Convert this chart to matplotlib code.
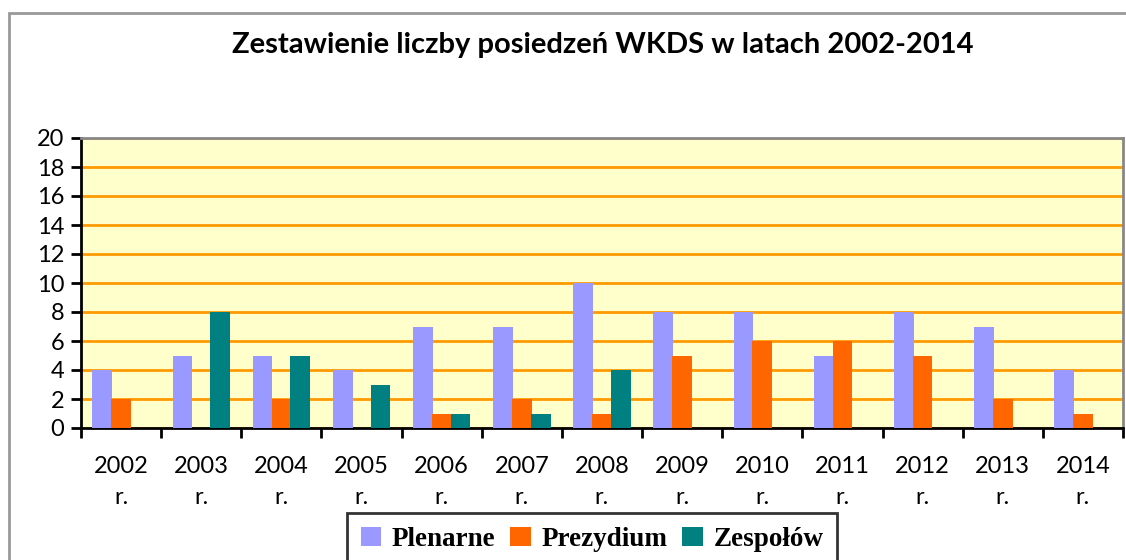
import numpy as np
import matplotlib.pyplot as plt
from matplotlib.patches import Rectangle

years = ['2002', '2003', '2004', '2005', '2006', '2007', '2008',
         '2009', '2010', '2011', '2012', '2013', '2014']
plenarne = [4, 5, 5, 4, 7, 7, 10, 8, 8, 5, 8, 7, 4]
prezydium = [2, 0, 2, 0, 1, 2, 1, 5, 6, 6, 5, 2, 1]
zespolow = [0, 8, 5, 3, 1, 1, 4, 0, 0, 0, 0, 0, 0]
series_names = ['Plenarne', 'Prezydium', 'Zespołów']
colors = ['#9999FF', '#FF6600', '#008080']

plt.rcParams['font.family'] = ['Lato', 'DejaVu Sans']

fig = plt.figure(figsize=(11.26, 5.6), dpi=100)
ax = fig.add_axes([81 / 1126, 1 - 428 / 560, 1042 / 1126, 290 / 560])
ax.set_facecolor('#FFFFCC')

x = np.arange(len(years)) + 0.5
w = 0.245
offs = [-0.235, 0.0, 0.235]
for vals, off, col, name in zip([plenarne, prezydium, zespolow], offs, colors, series_names):
    ax.bar(x + off, vals, width=w, color=col, label=name, zorder=3)

ax.set_xlim(0, len(years))
ax.set_ylim(0, 20)
ax.set_yticks(range(0, 21, 2))
ax.yaxis.grid(True, color='#FF9900', lw=2, zorder=1)
ax.set_axisbelow(True)

ax.set_xticks(np.arange(len(years) + 1))
ax.set_xticklabels([])
ax.set_xticks(x, minor=True)
ax.set_xticklabels([y + '\nr.' for y in years], minor=True, linespacing=1.6)
ax.tick_params(axis='x', which='minor', length=0, pad=20, labelsize=17)
ax.tick_params(axis='x', which='major', length=7, width=2, direction='out')
ax.tick_params(axis='y', length=7, width=2, labelsize=17, pad=5)

for s in ['left', 'bottom']:
    ax.spines[s].set_color('black')
    ax.spines[s].set_linewidth(2)
for s in ['top', 'right']:
    ax.spines[s].set_color('#888888')
    ax.spines[s].set_linewidth(2)

fig.text(603 / 1126, 1 - 45 / 560, 'Zestawienie liczby posiedzeń WKDS w latach 2002-2014',
         ha='center', va='center', fontsize=21, fontweight='bold')

leg = fig.legend(loc='upper left', bbox_to_anchor=(347 / 1126, 1 - 513 / 560), ncol=3,
                 prop={'family': 'Liberation Serif', 'weight': 'bold', 'size': 19.5},
                 frameon=True, fancybox=False, handlelength=0.75, handleheight=0.75,
                 handletextpad=0.4, columnspacing=0.55, borderpad=0.5, borderaxespad=0)
leg.get_frame().set_edgecolor('black')
leg.get_frame().set_linewidth(2)

fig.patches.append(Rectangle((9 / 1126, -0.1), 1.2, 1 - 13 / 560 + 0.1, transform=fig.transFigure,
                             fill=False, edgecolor='#999999', lw=2))

plt.savefig('out.png', dpi=100)
